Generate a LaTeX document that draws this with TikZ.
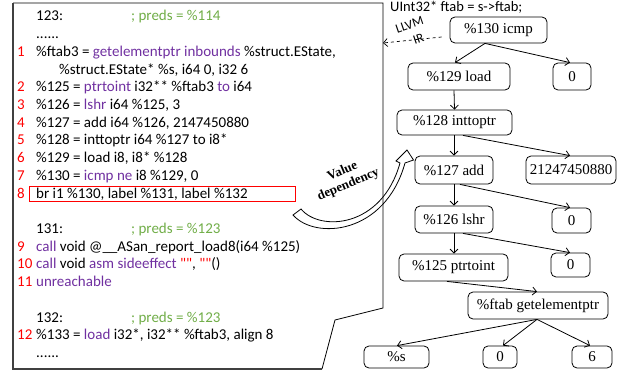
\documentclass[tikz,border=0pt]{standalone}
\usepackage{fontspec}
\usetikzlibrary{arrows.meta,calc}
\newfontfamily\codefont{Carlito}
\newfontfamily\tnr{Liberation Serif}
\definecolor{kwc}{HTML}{7030A0}
\definecolor{cmc}{HTML}{70AD47}
\definecolor{nmc}{HTML}{FF0000}
\definecolor{edgegray}{HTML}{404040}
\newcommand{\kwd}[1]{\textcolor{kwc}{#1}}
\newcommand{\strq}[1]{\textcolor{nmc}{#1}}
\begin{document}
\begin{tikzpicture}[x=1pt,y=-1pt,
  code/.style={anchor=base west, inner sep=0pt, font=\codefont\fontsize{15}{18}\selectfont},
  lnum/.style={code, text=nmc},
  cmt/.style={code, text=cmc},
  tnode/.style={draw, rounded corners=5pt, inner sep=0pt, line width=0.8pt,
     font=\tnr\fontsize{15}{18}\selectfont, minimum height=27pt},
  arr/.style={line width=0.8pt, -{Straight Barb[length=4pt,width=8pt]}},
  vdtext/.style={rotate=23, inner sep=0pt, font=\tnr\bfseries\fontsize{13}{14}\selectfont},
  irtext/.style={rotate=19, inner sep=0pt, font=\codefont\fontsize{13}{13}\selectfont}
]
\useasboundingbox (0,0) rectangle (623,374);

% page box
\draw[line width=0.8pt] (13,3) -- (383,3) -- (383,308) -- (335,320) -- (322,369);
\draw[line width=1.8pt, edgegray] (13,3) -- (13,369) -- (322,369);
\coordinate (irtip) at (383,43);

% code lines
\node[code] (l0) at (36,21) {123:};
\node[cmt] (c0) at (131,21) {; preds = \%114};
\node[code] (l1) at (36,38.7) {......};
\node[lnum] (n1) at (17,56.4) {1};
\node[code] (l2) at (36,56.4) {\%ftab3 = \kwd{getelementptr inbounds} \%struct.EState,};
\node[code] (l3) at (59,74.1) {\%struct.EState* \%s, i64 0, i32 6};
\node[lnum] (n2) at (17,91.8) {2};
\node[code] (l4) at (36,91.8) {\%125 = \kwd{ptrtoint} i32** \%ftab3 \kwd{to} i64};
\node[lnum] (n3) at (17,109.5) {3};
\node[code] (l5) at (36,109.5) {\%126 = \kwd{lshr} i64 \%125, 3};
\node[lnum] (n4) at (17,127.2) {4};
\node[code] (l6) at (36,127.2) {\%127 = add i64 \%126, 2147450880};
\node[lnum] (n5) at (17,144.9) {5};
\node[code] (l7) at (36,144.9) {\%128 = inttoptr i64 \%127 to i8*};
\node[lnum] (n6) at (17,162.6) {6};
\node[code] (l8) at (36,162.6) {\%129 = load i8, i8* \%128};
\node[lnum] (n7) at (17,180.3) {7};
\node[code] (l9) at (36,180.3) {\%130 = \kwd{icmp ne} i8 \%129, 0};
\node[lnum] (n8) at (17,198) {8};
\node[code] (l10) at (36,198) {br i1 \%130, label \%131, label \%132};
\draw[nmc, line width=0.8pt] (29,186) rectangle (295,201.5);
\node[code] (l12) at (36,233.4) {131:};
\node[cmt] (c12) at (131,233.4) {; preds = \%123};
\node[lnum] (n9) at (17,251) {9};
\node[code] (l13) at (36,251) {\kwd{call} void @\_\_ASan\_report\_load8(i64 \%125)};
\node[lnum] (n10) at (17,268.8) {10};
\node[code] (l14) at (36,268.8) {\kwd{call} void \kwd{asm sideeffect} \strq{""}, \strq{""}()};
\node[lnum] (n11) at (17,286.5) {11};
\node[code] (l15) at (36,286.5) {\kwd{unreachable}};
\node[code] (l17) at (36,322) {132:};
\node[cmt] (c17) at (131,322) {; preds = \%123};
\node[lnum] (n12) at (17,339.6) {12};
\node[code] (l18) at (36,339.6) {\%133 = \kwd{load} i32*, i32** \%ftab3, align 8};
\node[code] (l19) at (36,357) {......};

% source line
\node[code, font=\codefont\fontsize{14.5}{17}\selectfont] (src) at (390,12) {UInt32* ftab = s->ftab;};

% tree nodes
\node[tnode, minimum width=97pt, minimum height=26pt] (icmp) at (498.5,30) {\%130 icmp};
\node[tnode, minimum width=102pt] (load) at (459,76.5) {\%129 load};
\node[tnode, minimum width=38pt] (zA) at (572,76.5) {0};
\node[tnode, minimum width=115pt, minimum height=25pt] (itp) at (454.5,122.5) {\%128 inttoptr};
\node[tnode, minimum width=78pt, minimum height=28pt] (add) at (454,170) {\%127 add};
\node[tnode, minimum width=90pt, minimum height=28pt] (big) at (571,170) {21247450880};
\node[tnode, minimum width=78pt] (lshr) at (454,219.5) {\%126 lshr};
\node[tnode, minimum width=39pt, minimum height=25pt] (zB) at (571.5,220.5) {0};
\node[tnode, minimum width=109pt] (pti) at (453.5,267.5) {\%125 ptrtoint};
\node[tnode, minimum width=39pt, minimum height=24pt] (zC) at (570.5,265) {0};
\node[tnode, minimum width=140pt] (gep) at (538,305.5) {\%ftab getelementptr};
\node[tnode, minimum width=65pt, minimum height=22pt] (ps) at (396.5,357) {\%s};
\node[tnode, minimum width=34pt, minimum height=22pt] (zD) at (500,357) {0};
\node[tnode, minimum width=40pt, minimum height=22pt] (six) at (592,357) {6};

% tree edges
\draw[arr] ([xshift=-13.5pt]icmp.south) -- ([xshift=-4pt]load.north);
\draw[arr] ([xshift=-13.5pt]icmp.south) -- ([xshift=-2pt]zA.north);
\draw[arr] ([xshift=-5pt]load.south) -- (itp.north);
\draw[arr] ([xshift=-0.5pt]itp.south) -- (add.north);
\draw[arr] ([xshift=8.5pt]itp.south) -- ([xshift=-1pt]big.north);
\draw[arr] (add.south) -- (lshr.north);
\draw[arr] ([xshift=6pt]add.south) -- ([xshift=-1.5pt]zB.north);
\draw[arr] (lshr.south) -- ([xshift=0.5pt]pti.north);
\draw[arr] ([xshift=9pt]lshr.south) -- ([xshift=-0.5pt]zC.north);
\draw[arr] ([xshift=-6.5pt]pti.south) -- ([xshift=-1pt]gep.north);
\draw[arr] ([xshift=-1pt]gep.south) -- ([xshift=0.5pt]ps.north);
\draw[arr] ([xshift=-1pt]gep.south) -- ([xshift=3pt]zD.north);
\draw[arr] ([xshift=-1pt]gep.south) -- ([xshift=-2pt]six.north);

% LLVM IR dashed arrow
\draw[arr, dashed, line width=0.7pt] ([shift={(-8pt,-7pt)}]icmp.west) -- (irtip);
\node[irtext] (llvm) at (409.5,25) {LLVM};
\node[irtext] (ir) at (418.5,38.5) {IR};

% value dependency hollow arrow
\draw[line width=0.8pt, line join=miter]
  (293,215) .. controls (315,240) and (385,235) .. (405,163)
  -- (413.5,160) -- (407,150) -- (396,161) -- (400,163)
  .. controls (382,228) and (320,232) .. (301,209) -- cycle;
\node[vdtext] (vd1) at (342,170.5) {Value};
\node[vdtext] (vd2) at (348.5,184.5) {dependency};
\end{tikzpicture}
\end{document}
